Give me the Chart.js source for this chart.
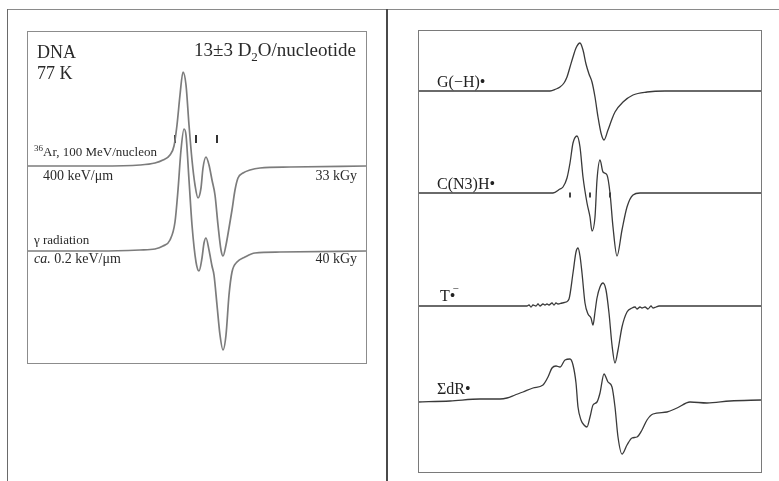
<!DOCTYPE html>
<html>
<head>
<meta charset="utf-8">
<script src="https://cdn.jsdelivr.net/npm/chart.js@4.4.1/dist/chart.umd.min.js"></script>
<style>
  html, body { margin: 0; padding: 0; background: #fff; }
  #page { position: relative; width: 779px; height: 481px; overflow: hidden; background: #fff; }
  #page canvas { position: absolute; top: 0; }
  .rule { position: absolute; }
</style>
</head>
<body>
<div id="page">
  <div class="rule" style="left:7px;top:9px;width:772px;height:1px;background:#8a8a8a"></div>
  <div class="rule" style="left:7px;top:9px;width:1px;height:472px;background:#6a6a6a"></div>
  <div class="rule" style="left:386px;top:9px;width:2px;height:472px;background:#4a4a4a"></div>
  <canvas id="leftChart" width="388" height="481" style="left:0"></canvas>
  <canvas id="rightChart" width="391" height="481" style="left:388px"></canvas>
</div>
<script>
// ============================================
// DATA (field: arbitrary units, signal: dX''/dB arb. units)
// ============================================
// left panel - DNA, 77 K
const arField = [0, 73, 113, 128, 136, 143, 147, 150, 153, 156, 159, 162, 165, 168, 171, 174, 176, 179, 182, 185, 188, 191, 194, 196, 199, 202, 205, 208, 211, 216, 223, 233, 263, 339];
const arSignal = [0, 0, 1, 3, 6, 11, 20, 41, 71, 94, 81, 41, 6, -19, -32, -22, -2, 9, 1, -14, -29, -59, -84, -90, -79, -62, -44, -24, -12, -7, -4, -2, -1, 0];

const gammaField = [0, 73, 113, 128, 136, 143, 148, 151, 154, 157, 159, 162, 165, 169, 172, 175, 177, 179, 182, 185, 187, 190, 193, 196, 199, 202, 205, 210, 218, 228, 253, 339];
const gammaSignal = [0, 0, 1, 2, 5, 11, 29, 61, 101, 122, 116, 71, 26, -11, -20, -7, 8, 13, 1, -15, -24, -54, -84, -99, -84, -44, -21, -11, -6, -2, -1, 0];

const dnaTickField = [148, 169, 190];

// right panel - reference radicals
const gField = [0, 132, 138, 142, 146, 149, 152, 155, 158, 162, 165, 168, 171, 174, 177, 180, 183, 186, 190, 194, 197, 205, 215, 229, 247, 343];
const gSignal = [0, 0, 2, 4, 8, 14, 24, 34, 43, 48, 41, 27, 17, 9, -6, -26, -42, -49, -39, -28, -21, -11, -4, -1, 0, 0];

const cField = [0, 135, 142, 145, 149, 152, 155, 159, 162, 165, 169, 172, 174, 177, 179, 182, 185, 189, 192, 195, 199, 204, 209, 215, 222, 343];
const cSignal = [0, 0, 4, 6, 15, 30, 50, 57, 46, 16, -10, -24, -38, -24, 13, 33, 21, 18, 0, -34, -63, -37, -14, -2, 0, 0];
const cTickField = [152, 172, 192];

const tField = [0, 109, 111, 113, 115, 118, 120, 122, 125, 127, 129, 131, 134, 136, 138, 140, 144, 148, 151, 155, 158, 160, 162, 164, 167, 170, 173, 175, 177, 179, 182, 185, 188, 191, 194, 197, 200, 204, 209, 214, 217, 219, 222, 224, 227, 230, 233, 235, 238, 241, 244, 343];
const tSignal = [0, 0, 1, -1, 1, 0, 2, 0, 2, 1, 2, 1, 3, 1, 3, 2, 3, 4, 7, 33, 54, 58, 50, 33, 3, -8, -12, -19, -6, 8, 19, 23, 16, -7, -39, -57, -44, -21, -6, -2, -1, -3, -1, -2, -1, -3, 0, -2, -1, 0, 0, 0];

const drField = [0, 32, 62, 82, 89, 97, 105, 115, 125, 130, 134, 138, 142, 147, 152, 155, 158, 160, 163, 166, 169, 172, 175, 179, 182, 186, 190, 194, 197, 200, 204, 209, 214, 219, 224, 229, 235, 249, 259, 272, 289, 312, 343];
const drSignal = [-2, -1, 1, 1, 2, 5, 8, 12, 15, 23, 32, 34, 33, 40, 41, 35, 17, -7, -20, -25, -27, -17, -5, -2, 7, 26, 18, 13, -7, -37, -54, -45, -38, -37, -30, -20, -14, -12, -8, -2, -3, -1, 0];

// ============================================
// HELPERS
// ============================================
const pts = (xs, ys, offset) => xs.map((x, i) => ({ x, y: ys[i] + offset }));

const frame = {
  id: 'frame',
  afterDraw(chart, args, opts) {
    const { ctx, chartArea: a } = chart;
    ctx.save();
    ctx.strokeStyle = opts.color;
    ctx.lineWidth = 1;
    ctx.strokeRect(Math.round(a.left) + 0.5, Math.round(a.top) + 0.5, Math.round(a.width), Math.round(a.height));
    ctx.restore();
  }
};

// draws a label made of parts (plain, italic, sub, sup)
function drawRich(ctx, parts, x, y, size, align, family) {
  const fontFor = p => `${p.italic ? 'italic ' : ''}${(p.sub || p.sup) ? Math.round(size * 0.68) : size}px ${family}`;
  let w = 0;
  parts.forEach(p => { ctx.font = fontFor(p); w += ctx.measureText(p.t).width + (p.dx || 0); });
  let cx = align === 'right' ? x - w : x;
  parts.forEach(p => {
    ctx.font = fontFor(p);
    const dy = p.sub ? size * 0.28 : p.sup ? -size * (p.raise || 0.42) : 0;
    ctx.fillText(p.t, cx + (p.dx || 0), y + dy);
    cx += ctx.measureText(p.t).width + (p.dx || 0);
  });
}

const labels = {
  id: 'labels',
  afterDatasetsDraw(chart, args, opts) {
    const { ctx, scales } = chart;
    ctx.save();
    ctx.fillStyle = opts.color;
    ctx.textBaseline = 'alphabetic';
    ctx.textAlign = 'left';
    opts.items.forEach(it => {
      drawRich(ctx, it.parts, scales.x.getPixelForValue(it.x), scales.y.getPixelForValue(it.y),
        it.size, it.align || 'left', opts.family);
    });
    ctx.restore();
  }
};

const traceStyle = (color, width) => ({
  borderColor: color,
  borderWidth: width,
  pointRadius: 0,
  fill: false,
  cubicInterpolationMode: 'monotone'
});

const tickStyle = color => ({
  showLine: false,
  pointStyle: 'line',
  rotation: 90,
  borderColor: color,
  backgroundColor: color,
  borderWidth: 2,
  pointBorderWidth: 2
});

const hiddenScales = (xMax, yMax) => ({
  x: { type: 'linear', min: 0, max: xMax, display: false },
  y: { type: 'linear', min: 0, max: yMax, display: false }
});

// ============================================
// LEFT PANEL
// ============================================
new Chart(document.getElementById('leftChart'), {
  type: 'line',
  data: {
    datasets: [
      { label: '36Ar', data: pts(arField, arSignal, 197), ...traceStyle('#7c7c7c', 1.7) },
      { label: 'gamma', data: pts(gammaField, gammaSignal, 112), ...traceStyle('#7c7c7c', 1.7) },
      { label: 'marks', data: dnaTickField.map(x => ({ x, y: 224 })), pointRadius: 4, ...tickStyle('#333') }
    ]
  },
  options: {
    responsive: false,
    animation: false,
    layout: { padding: { left: 27, top: 31, right: 22, bottom: 118 } },
    scales: hiddenScales(339, 332),
    plugins: {
      legend: { display: false },
      tooltip: { enabled: false },
      frame: { color: '#8c8c8c' },
      labels: {
        color: '#2a2a2a',
        family: '"Liberation Serif", "DejaVu Serif", serif',
        items: [
          { x: 10, y: 305, size: 18, parts: [{ t: 'DNA' }] },
          { x: 10, y: 284, size: 18, parts: [{ t: '77 K' }] },
          { x: 329, y: 307, size: 19, align: 'right', parts: [{ t: '13±3 D' }, { t: '2', sub: true }, { t: 'O/nucleotide' }] },
          { x: 7, y: 207, size: 13, parts: [{ t: '36', sup: true }, { t: 'Ar, 100 MeV/nucleon' }] },
          { x: 16, y: 183, size: 14, parts: [{ t: '400 keV/μm' }] },
          { x: 330, y: 183, size: 14, align: 'right', parts: [{ t: '33 kGy' }] },
          { x: 7, y: 119, size: 13, parts: [{ t: 'γ radiation' }] },
          { x: 7, y: 100, size: 14, parts: [{ t: 'ca.', italic: true }, { t: ' 0.2 keV/μm' }] },
          { x: 330, y: 100, size: 14, align: 'right', parts: [{ t: '40 kGy' }] }
        ]
      }
    }
  },
  plugins: [frame, labels]
});

// ============================================
// RIGHT PANEL
// ============================================
new Chart(document.getElementById('rightChart'), {
  type: 'line',
  data: {
    datasets: [
      { label: 'G(-H)', data: pts(gField, gSignal, 381), ...traceStyle('#3a3a3a', 1.3) },
      { label: 'C(N3)H', data: pts(cField, cSignal, 279), ...traceStyle('#3a3a3a', 1.3) },
      { label: 'T-', data: pts(tField, tSignal, 166), ...traceStyle('#3a3a3a', 1.3) },
      { label: 'dR', data: pts(drField, drSignal, 72), ...traceStyle('#3a3a3a', 1.3) },
      { label: 'marks', data: cTickField.map(x => ({ x, y: 277 })), pointRadius: 2.5, ...tickStyle('#444') }
    ]
  },
  options: {
    responsive: false,
    animation: false,
    layout: { padding: { left: 30, top: 30, right: 18, bottom: 9 } },
    scales: hiddenScales(343, 442),
    plugins: {
      legend: { display: false },
      tooltip: { enabled: false },
      frame: { color: '#7a7a7a' },
      labels: {
        color: '#222',
        family: '"Liberation Serif", "DejaVu Serif", serif',
        items: [
          { x: 19, y: 385, size: 16, parts: [{ t: 'G(−H)•' }] },
          { x: 19, y: 283, size: 16, parts: [{ t: 'C(N3)H•' }] },
          { x: 22, y: 171, size: 16, parts: [{ t: 'T•' }, { t: '−', sup: true, raise: 0.55, dx: -3 }] },
          { x: 19, y: 78, size: 16, parts: [{ t: 'ΣdR•' }] }
        ]
      }
    }
  },
  plugins: [frame, labels]
});
</script>
</body>
</html>
